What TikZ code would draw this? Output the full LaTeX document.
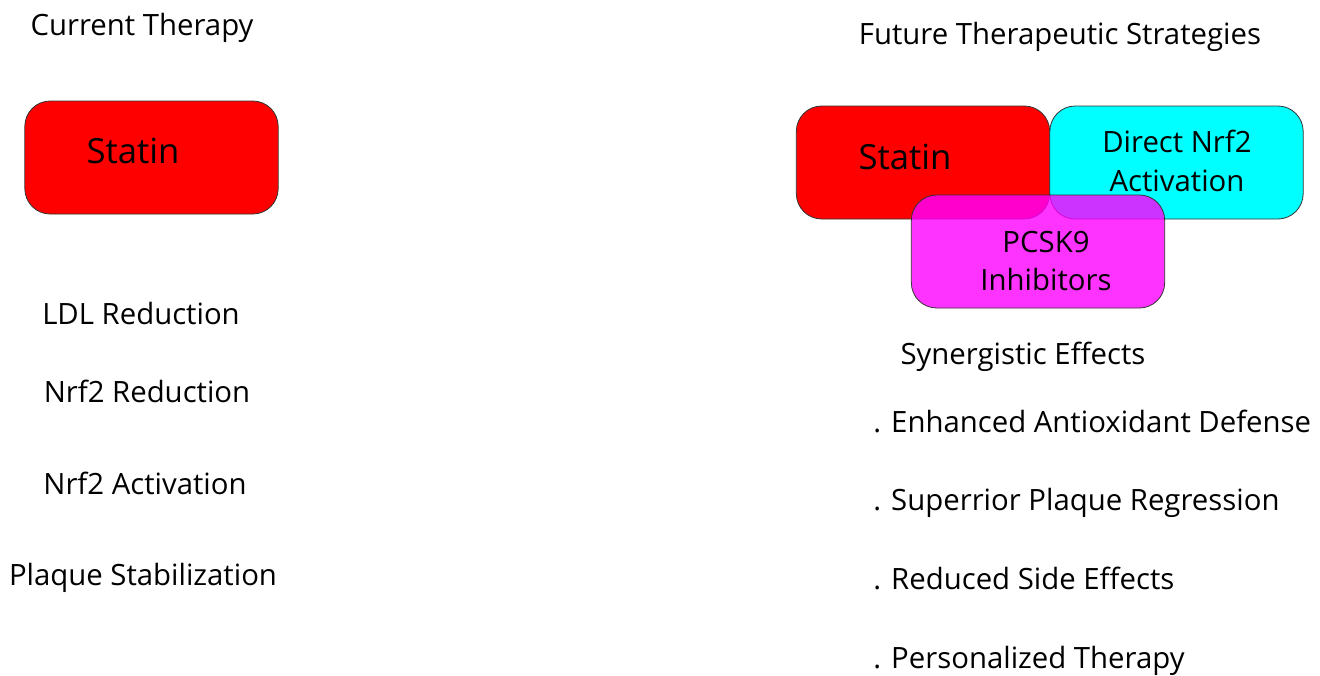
\documentclass[tikz,border=0pt]{standalone}
\usepackage{fontspec}
\setmainfont{Open Sans}
\usepackage{tikz}
\definecolor{statinred}{HTML}{FF0000}
\definecolor{nrfcyan}{HTML}{00FFFF}
\definecolor{pcskmag}{HTML}{FF00FF}
\definecolor{boxline}{HTML}{333333}
\tikzset{
  therbox/.style={draw=boxline,line width=0.6pt,rounded corners=19pt,
    minimum width=190pt,minimum height=84.75pt,inner sep=0pt},
  plain/.style={inner sep=0pt,anchor=center,text depth=0pt,
    font=\fontsize{22}{29}\selectfont}
}

\begin{document}
\begin{tikzpicture}[x=0.75pt,y=-0.75pt]
  \useasboundingbox (0,0) rectangle (1320,675);
  % current therapy
  \node[plain] (curhead) at (142,24) {Current Therapy};
  \node[therbox,fill=statinred] (statA) at (151.5,157.5) {};
  \node[plain,font=\fontsize{26}{29}\selectfont] (statAtxt) at (133,151) {Statin};
  \node[plain] (ldl)   at (141,313) {LDL Reduction};
  \node[plain] (nrfred) at (147,391) {Nrf2 Reduction};
  \node[plain] (nrfact) at (145,483) {Nrf2 Activation};
  \node[plain] (plaq)  at (143,574) {Plaque Stabilization};
  % future strategies
  \node[plain] (futhead) at (1060,33) {Future Therapeutic Strategies};
  \node[therbox,fill=statinred] (statB) at (923,162.5) {};
  \node[therbox,fill=nrfcyan] (direct) at (1176.5,162.5) {};
  \node[plain,font=\fontsize{26}{29}\selectfont] (statBtxt) at (905,157) {Statin};
  \node[plain,align=center] (directtxt) at (1177,161) {Direct Nrf2\\Activation};
  \node[therbox,fill=pcskmag,fill opacity=0.8] (pcsk) at (1038,251.5) {};
  \node[plain,align=center] (pcsktxt) at (1046,261) {PCSK9\\Inhibitors};
  \node[plain] (syn) at (1023,353) {Synergistic Effects};
  \begin{scope}[every node/.style={plain,anchor=west}]
    \node (eff1) at (873,421) {. Enhanced Antioxidant Defense};
    \node (eff2) at (873,499) {. Superrior Plaque Regression};
    \node (eff3) at (873,578) {. Reduced Side Effects};
    \node (eff4) at (873,657) {. Personalized Therapy};
  \end{scope}
\end{tikzpicture}
\end{document}
